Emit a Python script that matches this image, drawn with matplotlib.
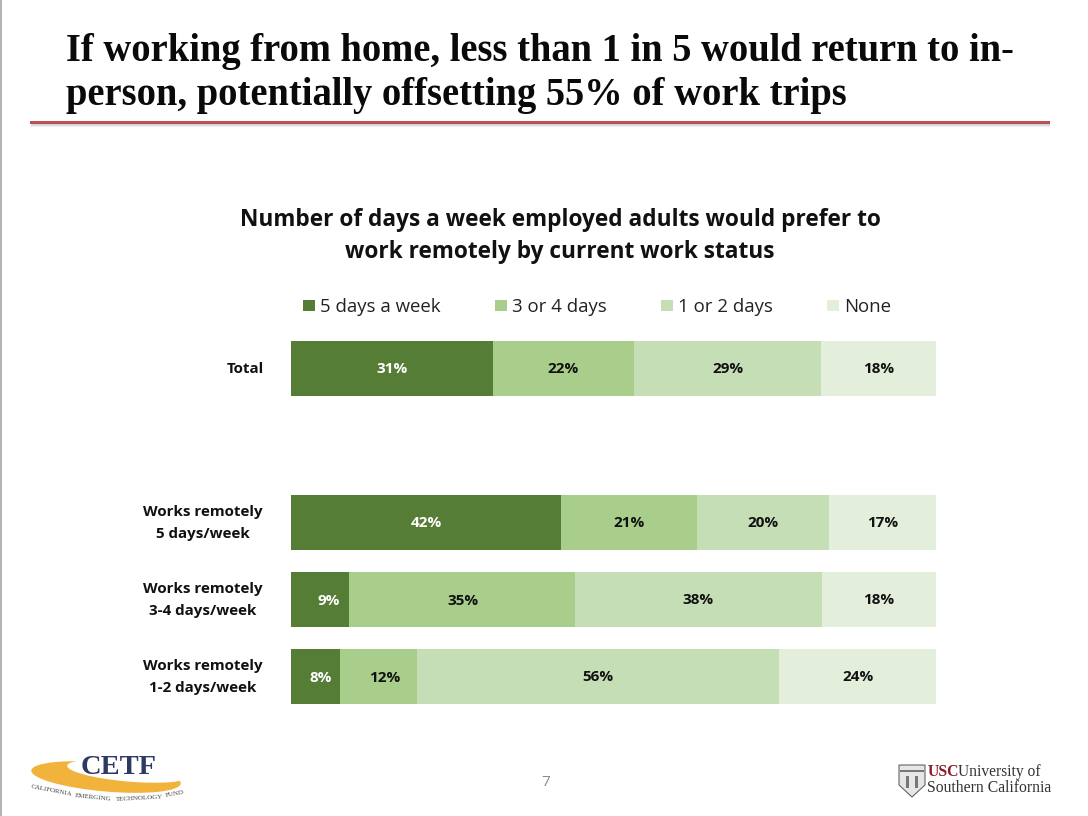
import matplotlib
matplotlib.use("Agg")
import matplotlib.pyplot as plt
from matplotlib.patches import Rectangle, Ellipse, Polygon

W, H = 1088, 816

groups = ["Total", "", "Works remotely\n5 days/week", "Works remotely\n3-4 days/week", "Works remotely\n1-2 days/week"]
five_days = [31.3, None, 41.9, 9.0, 7.6]
three_four = [21.9, None, 21.1, 35.0, 11.9]
one_two = [29.0, None, 20.4, 38.3, 56.2]
none_days = [17.8, None, 16.6, 17.7, 24.3]
series_names = ["5 days a week", "3 or 4 days", "1 or 2 days", "None"]
series_values = [five_days, three_four, one_two, none_days]
colors = ["#567D36", "#A9CE8C", "#C6DEB5", "#E3EEDB"]
label_colors = ["white", "#111111", "#111111", "#111111"]

title_lines = ["If working from home, less than 1 in 5 would return to in-",
               "person, potentially offsetting 55% of work trips"]
subtitle_lines = ["Number of days a week employed adults would prefer to",
                  "work remotely by current work status"]

fig = plt.figure(figsize=(W / 100, H / 100), dpi=100, facecolor="white")

# overlay in pixel coordinates for slide furniture
bg = fig.add_axes([0, 0, 1, 1])
bg.set_xlim(0, W)
bg.set_ylim(H, 0)
bg.axis("off")

bg.add_patch(Rectangle((0, 0), 1.5, H, color="#B5B5B5", lw=0))

bg.text(66, 52, title_lines[0], family="Liberation Serif", weight="bold", fontsize=27.75,
        color="#0A0A0A", va="center", ha="left")
bg.text(66, 96, title_lines[1], family="Liberation Serif", weight="bold", fontsize=27.75,
        color="#0A0A0A", va="center", ha="left")

# rule with soft shadow
for y0, c in zip([123.5, 124.5, 125.5], ["#CFCFD6", "#DEDEE3", "#EEEEF1"]):
    bg.add_patch(Rectangle((31, y0), 1019, 1.2, color=c, lw=0))
bg.add_patch(Rectangle((30, 120.5), 1020, 3, color="#BE5055", lw=0))

bg.text(560, 220, subtitle_lines[0], family="Open Sans", weight="bold", fontsize=16.3,
        color="#111111", ha="center", va="center")
bg.text(560, 252, subtitle_lines[1], family="Open Sans", weight="bold", fontsize=16.3,
        color="#111111", ha="center", va="center")

# legend
legend_x = [303, 495, 661, 827]
for x0, name, c in zip(legend_x, series_names, colors):
    bg.add_patch(Rectangle((x0, 300), 11.5, 11, color=c, lw=0))
    bg.text(x0 + 17, 306.5, name, family="Open Sans", fontsize=13.4, color="#222222",
            ha="left", va="center")

# chart
ax = fig.add_axes([291 / W, 1 - 715 / H, 645 / W, 385 / H])
ax.set_xlim(0, 100)
ax.set_ylim(4.5, -0.5)
ax.patch.set_alpha(0)
for s in ax.spines.values():
    s.set_visible(False)
ax.set_xticks([])
ax.set_yticks([])

# (row, series) -> label nudge in points, as placed by hand on the original slide
nudges = {(3, 0): (6, -1.4), (3, 1): (0.7, -1.4), (4, 0): (3.5, -1.4), (4, 1): (4.5, -1.4)}
label_offsets = [-33, 0, -63.4, -63.4, -63.4]  # points left of the axis
for i, group in enumerate(groups):
    left = 0
    if five_days[i] is None:
        continue
    for j, (vals, c, lc) in enumerate(zip(series_values, colors, label_colors)):
        v = vals[i]
        ax.barh(i, v, left=left, height=0.71, color=c, linewidth=0)
        dx, dy = nudges.get((i, j), (0, -0.7))
        ax.annotate(f"{v:.0f}%", xy=(left + v / 2, i), xytext=(dx, dy), textcoords="offset points",
                    ha="center", va="center", color=lc, family="Open Sans", weight="bold",
                    fontsize=11)
        left += v
    ax.annotate(group, xy=(0, i), xytext=(label_offsets[i], -0.3), textcoords="offset points",
                ha="center", va="center", family="Open Sans", weight="bold", fontsize=10.9,
                color="#111111", linespacing=1.8, annotation_clip=False)

# page number
bg.text(546, 782, "7", family="Open Sans", fontsize=11, color="#8A8A8A", ha="center", va="center")

# CETF logo
bg.add_patch(Ellipse((106, 777), 150, 29, angle=5, color="#F2B33D", lw=0))
bg.add_patch(Ellipse((128, 771), 122, 21, angle=5, color="white", lw=0))
bg.text(119, 768, "CETF", family="Liberation Serif", weight="bold", fontsize=20.5, color="#2D3A63",
        ha="center", va="center")
for word, x0, y0, rot in [("CALIFORNIA", 52, 791, -11), ("EMERGING", 93, 797.5, -6),
                          ("TECHNOLOGY", 139, 798, 3), ("FUND", 175, 794, 10)]:
    bg.text(x0, y0, word, family="Liberation Serif", fontsize=5.0, color="#444444",
            ha="center", va="center", rotation=rot, rotation_mode="anchor")

# USC logo
bg.add_patch(Polygon([(899, 765), (925, 765), (925, 785), (912, 797), (899, 785)],
                     closed=True, facecolor="#E6E6E6", edgecolor="#666666", lw=0.8))
bg.add_patch(Rectangle((900, 770), 24, 2, color="#777777", lw=0))
bg.add_patch(Rectangle((906, 776), 3, 12, color="#777777", lw=0))
bg.add_patch(Rectangle((915, 776), 3, 12, color="#777777", lw=0))
bg.text(928, 772, "USC", family="Liberation Serif", weight="bold", fontsize=11.3, color="#8B1A2B",
        ha="left", va="center")
bg.text(958, 772, "University of", family="Liberation Serif", fontsize=11.2, color="#333333",
        ha="left", va="center")
bg.text(927, 788, "Southern California", family="Liberation Serif", fontsize=11.3, color="#333333",
        ha="left", va="center")

fig.savefig("out.png", dpi=100, facecolor="white")
